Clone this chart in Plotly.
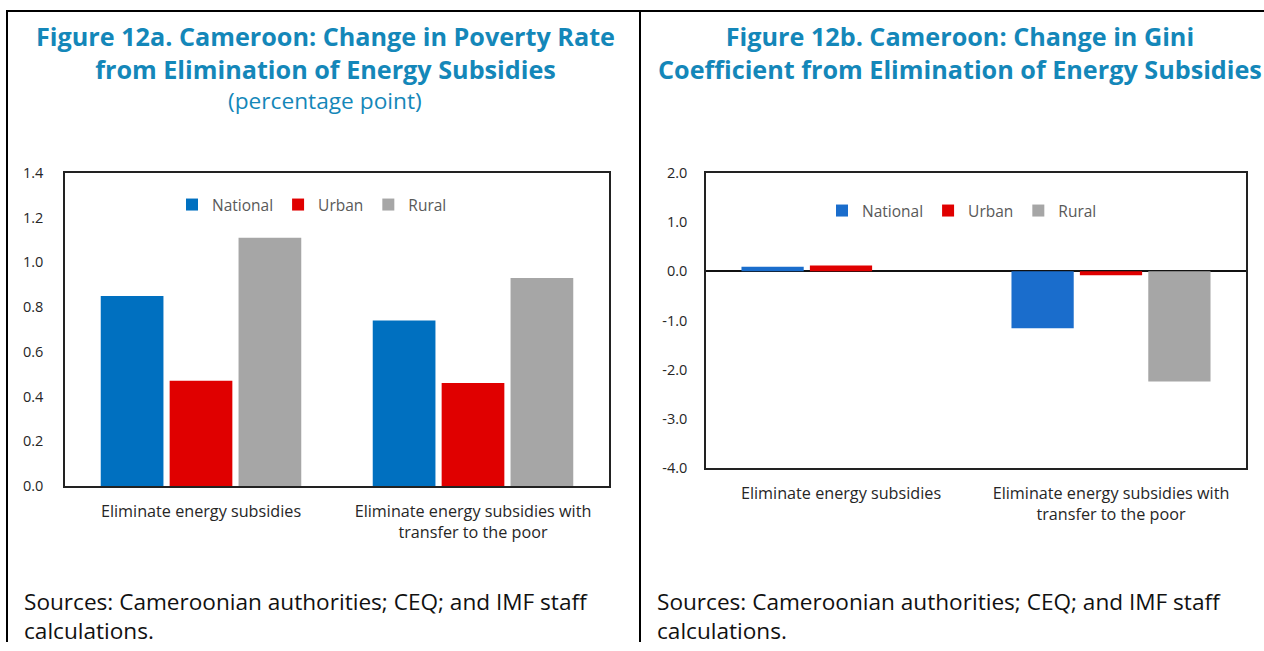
import plotly.graph_objects as go

categories = ["Eliminate energy subsidies", "Eliminate energy subsidies with<br>transfer to the poor"]
series_names = ["National", "Urban", "Rural"]

poverty_national = [0.85, 0.74]
poverty_urban = [0.47, 0.46]
poverty_rural = [1.11, 0.93]

gini_national = [0.09, -1.16]
gini_urban = [0.12, -0.08]
gini_rural = [0.0, -2.24]

poverty_ticks = [0.0, 0.2, 0.4, 0.6, 0.8, 1.0, 1.2, 1.4]
poverty_ticktext = ["0.0", "0.2", "0.4", "0.6", "0.8", "1.0", "1.2", "1.4"]
gini_ticks = [-4, -3, -2, -1, 0, 1, 2]
gini_ticktext = ["-4.0", "-3.0", "-2.0", "-1.0", "0.0", "1.0", "2.0"]

title_a = "Figure 12a. Cameroon: Change in Poverty Rate<br>from Elimination of Energy Subsidies"
subtitle_a = "(percentage point)"
title_b = "Figure 12b. Cameroon: Change in Gini<br>Coefficient from Elimination of Energy Subsidies"
source_text = "Sources: Cameroonian authorities; CEQ; and IMF staff<br>calculations."

colors_left = ["#0070c0", "#e00000", "#a6a6a6"]
colors_right = ["#1a6dcc", "#e00000", "#a6a6a6"]

W, H = 1264, 651
# vertical placement compensates the capture's observed offset/compression
Y0, YS = 10.0, 0.971

def px(x):
    return x / W

def py(y):
    ly = (y - Y0) / YS
    return min(1.0, max(0.0, 1 - ly / H))

fig = go.Figure()
for name, vals, c in zip(series_names, [poverty_national, poverty_urban, poverty_rural], colors_left):
    fig.add_trace(go.Bar(x=categories, y=vals, name=name, marker_color=c, marker_line_width=0,
                         xaxis="x", yaxis="y", legend="legend"))
for name, vals, c in zip(series_names, [gini_national, gini_urban, gini_rural], colors_right):
    fig.add_trace(go.Bar(x=categories, y=vals, name=name, marker_color=c, marker_line_width=0,
                         xaxis="x2", yaxis="y2", legend="legend2"))

tickfont = dict(family="Open Sans", size=14.5, color="#262626")
catfont = dict(family="Open Sans", size=16.2, color="#262626")
legfont = dict(family="Open Sans", size=15.5, color="#595959")

fig.update_layout(
    width=W, height=H,
    margin=dict(l=0, r=0, t=0, b=0),
    paper_bgcolor="white", plot_bgcolor="white",
    barmode="group", bargap=0.24, bargroupgap=0.09,
    xaxis=dict(domain=[px(65), px(609)], anchor="y", type="category",
               showline=True, mirror=True, linecolor="#222222", linewidth=1.5,
               showgrid=False, ticks="outside", ticklen=10, tickcolor="rgba(0,0,0,0)",
               tickfont=catfont),
    yaxis=dict(domain=[py(486), py(173)], anchor="x", range=[0, 1.4],
               tickvals=poverty_ticks, ticktext=poverty_ticktext,
               showline=True, mirror=True, linecolor="#222222", linewidth=1.5,
               showgrid=False, zeroline=False, ticks="", ticklabelstandoff=17,
               tickfont=tickfont),
    xaxis2=dict(domain=[px(706), px(1246)], anchor="y2", type="category",
                showline=True, mirror=True, linecolor="#222222", linewidth=1.5,
                showgrid=False, ticks="outside", ticklen=10, tickcolor="rgba(0,0,0,0)",
                tickfont=catfont),
    yaxis2=dict(domain=[py(468), py(173)], anchor="x2", range=[-4, 2],
                tickvals=gini_ticks, ticktext=gini_ticktext,
                showline=True, mirror=True, linecolor="#222222", linewidth=1.5,
                showgrid=False, zeroline=True, zerolinecolor="#111111", zerolinewidth=1.5,
                ticks="", ticklabelstandoff=14, tickfont=tickfont),
    legend=dict(orientation="h", x=px(312), y=py(205), xanchor="center", yanchor="middle",
                font=legfont, bgcolor="rgba(0,0,0,0)", itemwidth=30, tracegroupgap=0),
    legend2=dict(orientation="h", x=px(962), y=py(211), xanchor="center", yanchor="middle",
                 font=legfont, bgcolor="rgba(0,0,0,0)", itemwidth=30, tracegroupgap=0),
)

title_color = "#1487b9"
annotations = [
    dict(text="<b>" + title_a.replace("<br>", "</b><br><b>") + "</b>", x=px(325), y=py(52.5),
         xanchor="center", yanchor="middle", showarrow=False, align="center",
         font=dict(family="Open Sans", size=25.2, color=title_color)),
    dict(text=subtitle_a, x=px(325), y=py(101), xanchor="center", yanchor="middle", showarrow=False,
         font=dict(family="Open Sans", size=22.7, color=title_color)),
    dict(text="<b>" + title_b.replace("<br>", "</b><br><b>") + "</b>", x=px(960), y=py(52.5),
         xanchor="center", yanchor="middle", showarrow=False, align="center",
         font=dict(family="Open Sans", size=25.2, color=title_color)),
    dict(text=source_text, x=px(22), y=py(616), xanchor="left", yanchor="middle", showarrow=False,
         align="left", font=dict(family="Open Sans", size=22.6, color="#111111")),
    dict(text=source_text, x=px(655), y=py(616), xanchor="left", yanchor="middle", showarrow=False,
         align="left", font=dict(family="Open Sans", size=22.6, color="#111111")),
]
for a in annotations:
    a["xref"] = "paper"
    a["yref"] = "paper"
fig.update_layout(annotations=annotations)

border = dict(color="black", width=2)
top_y = 1 - 1.0 / H
shapes = [
    dict(type="line", xref="paper", yref="paper", x0=px(6), x1=1, y0=top_y, y1=top_y, line=border),
    dict(type="line", xref="paper", yref="paper", x0=px(7), x1=px(7), y0=top_y, y1=0, line=border),
    dict(type="line", xref="paper", yref="paper", x0=px(640), x1=px(640), y0=top_y, y1=0, line=border),
]
fig.update_layout(shapes=shapes)

post = ("document.documentElement.style.margin='0';document.body.style.margin='0';"
        "document.body.style.overflow='hidden';"
        "var d=document.getElementById('{plot_id}');d.style.position='fixed';"
        "d.style.top='0px';d.style.left='0px';")
fig.write_html("out.html", config={"displayModeBar": False}, post_script=post)
